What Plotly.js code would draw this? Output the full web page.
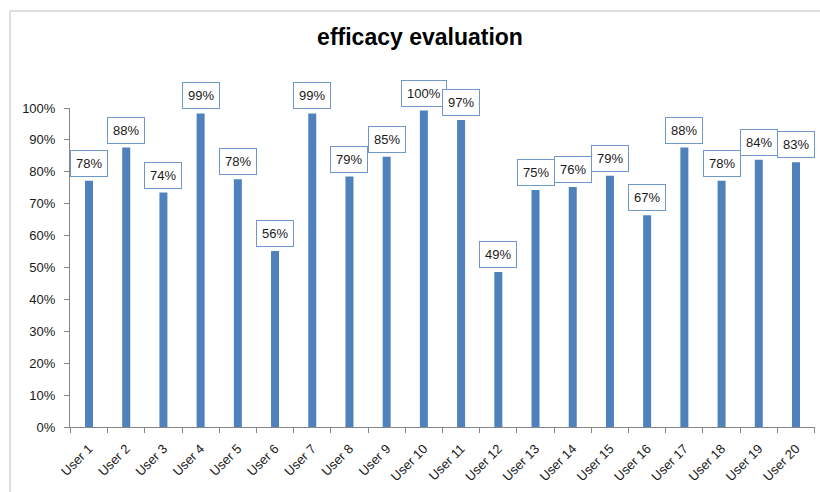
<!DOCTYPE html>
<html>
<head>
<meta charset="utf-8">
<script src="https://cdn.plot.ly/plotly-3.0.1.min.js"></script>
<style>
  html, body { margin: 0; padding: 0; background: #ffffff; }
  #chart { width: 820px; height: 492px; }
</style>
</head>
<body>
<div id="chart"></div>
<script>
// Data
const users = ["User 1","User 2","User 3","User 4","User 5","User 6","User 7","User 8","User 9","User 10",
               "User 11","User 12","User 13","User 14","User 15","User 16","User 17","User 18","User 19","User 20"];
const efficacy = [0.772,0.876,0.735,0.983,0.777,0.552,0.983,0.785,0.847,0.992,
                  0.962,0.486,0.743,0.752,0.788,0.664,0.876,0.772,0.838,0.830];
const labelText = ["78%","88%","74%","99%","78%","56%","99%","79%","85%","100%",
                   "97%","49%","75%","76%","79%","67%","88%","78%","84%","83%"];
const yTickVals = [0,0.1,0.2,0.3,0.4,0.5,0.6,0.7,0.8,0.9,1.0];
const yTickText = ["0%","10%","20%","30%","40%","50%","60%","70%","80%","90%","100%"];

const FONT = "Liberation Sans, Arial, sans-serif";
const BLUE = "#4F81BD";

const trace = {
  type: "bar",
  x: users,
  y: efficacy,
  marker: { color: BLUE },
  hoverinfo: "x+y"
};

const annotations = users.map((u, i) => ({
  x: u, y: efficacy[i], xref: "x", yref: "y",
  text: labelText[i],
  showarrow: false,
  yanchor: "bottom",
  yshift: 4,
  font: { family: FONT, size: 13, color: "#1a1a1a" },
  bgcolor: "#ffffff",
  bordercolor: "#6F97CC",
  borderwidth: 1,
  borderpad: 5
}));

// plot area: x 70..815, y 108..427 (px)
const L = 70, R = 815, T = 108, B = 427;
const px2x = p => (p - L) / (R - L);
const px2y = p => (B - p) / (B - T);

const layout = {
  width: 820, height: 492,
  margin: { l: L, r: 820 - R, t: T, b: 492 - B, pad: 0 },
  paper_bgcolor: "#ffffff",
  plot_bgcolor: "#ffffff",
  showlegend: false,
  bargap: 0.785,
  font: { family: FONT, size: 12, color: "#1a1a1a" },
  title: {
    text: "<b>efficacy evaluation</b>",
    font: { family: FONT, size: 23, color: "#000000" },
    xref: "container", yref: "container",
    x: 420 / 820, xanchor: "center",
    y: 1 - 37 / 492, yanchor: "middle"
  },
  xaxis: {
    type: "category",
    showline: true, linecolor: "#868686", linewidth: 1,
    ticks: "outside", tickson: "boundaries", ticklen: 5, tickcolor: "#868686",
    tickangle: -45,
    ticklabelstandoff: 8,
    tickfont: { family: FONT, size: 13, color: "#1a1a1a" },
    showgrid: false, zeroline: false,
    fixedrange: true
  },
  yaxis: {
    range: [0, 1.0],
    tickvals: yTickVals, ticktext: yTickText,
    showline: true, linecolor: "#868686", linewidth: 1,
    ticks: "outside", ticklen: 5, tickcolor: "#868686",
    ticklabelstandoff: 6,
    tickfont: { family: FONT, size: 13, color: "#1a1a1a" },
    showgrid: false, zeroline: false,
    fixedrange: true
  },
  annotations: annotations,
  shapes: [
    { type: "line", xref: "paper", yref: "paper",
      x0: px2x(10), x1: px2x(10), y0: px2y(11), y1: px2y(492),
      line: { color: "#BFBFBF", width: 1 } },
    { type: "line", xref: "paper", yref: "paper",
      x0: px2x(10), x1: px2x(820), y0: px2y(11), y1: px2y(11),
      line: { color: "#BFBFBF", width: 1 } }
  ]
};

Plotly.newPlot("chart", [trace], layout, { displayModeBar: false, staticPlot: true });
</script>
</body>
</html>
